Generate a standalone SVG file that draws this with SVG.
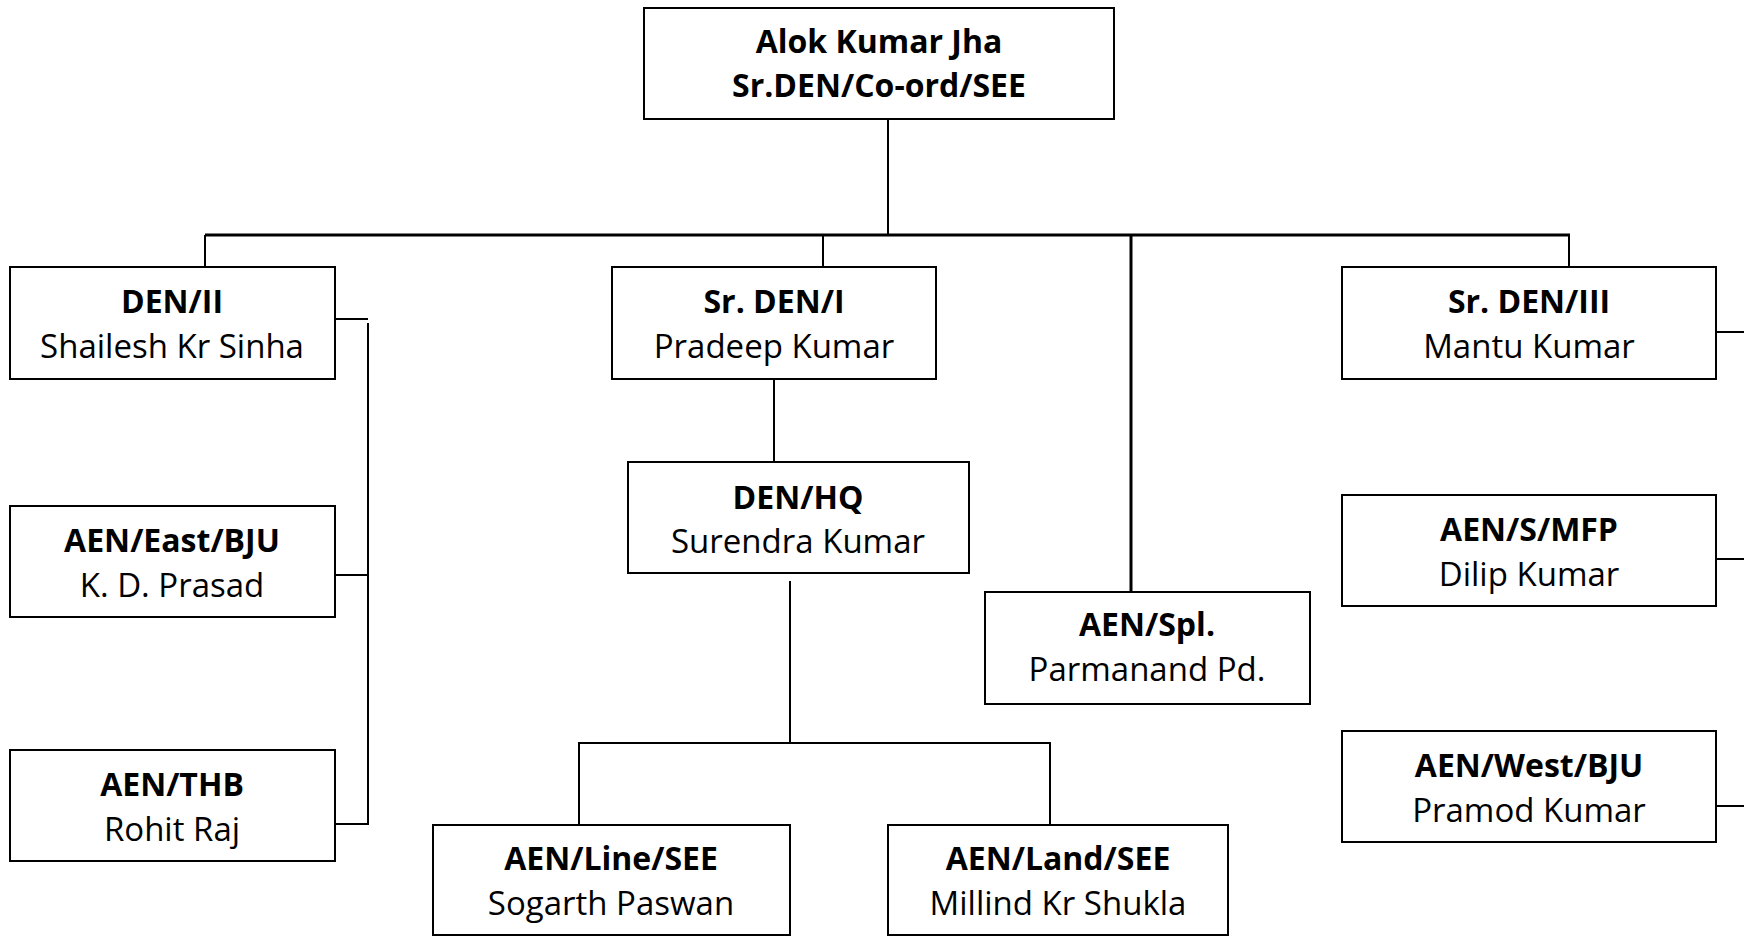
<svg xmlns="http://www.w3.org/2000/svg" width="1744" height="936" viewBox="0 0 1744 936">
<style>
  .box { fill: #ffffff; stroke: #000000; stroke-width: 2; }
  .t { font-family: "Open Sans", "Liberation Sans", sans-serif; font-size: 32px; fill: #000000; text-anchor: middle; }
  .b { font-weight: bold; }
  .n { font-size: 33px; }
  .c { fill: none; stroke: #000000; stroke-width: 2; }
  .thick { stroke-width: 3; }
</style>
<rect width="1744" height="936" fill="#ffffff"/>
<g id="connectors">
  <line class="c" x1="888" y1="119" x2="888" y2="235"/>
  <line class="c thick" x1="205" y1="235" x2="1570" y2="235"/>
  <line class="c" x1="205" y1="235" x2="205" y2="267"/>
  <line class="c" x1="823" y1="235" x2="823" y2="267"/>
  <line class="c thick" x1="1131" y1="235" x2="1131" y2="592"/>
  <line class="c" x1="1569" y1="235" x2="1569" y2="267"/>
  <polyline class="c" points="335,319 368,319"/>
  <polyline class="c" points="368,323 368,824 335,824"/>
  <line class="c" x1="335" y1="575" x2="368" y2="575"/>
  <line class="c" x1="774" y1="380" x2="774" y2="462"/>
  <line class="c" x1="790" y1="581" x2="790" y2="743"/>
  <polyline class="c" points="579,825 579,743 1050,743 1050,825"/>
  <line class="c" x1="1716" y1="332" x2="1744" y2="332"/>
  <line class="c" x1="1716" y1="559" x2="1744" y2="559"/>
  <line class="c" x1="1716" y1="806" x2="1744" y2="806"/>
</g>
<g id="n-top">
  <rect class="box" x="644" y="8" width="470" height="111"/>
  <text class="t b" x="879" y="53">Alok Kumar Jha</text>
  <text class="t b" x="879" y="97">Sr.DEN/Co-ord/SEE</text>
</g>
<g id="n-den2">
  <rect class="box" x="10" y="267" width="325" height="112"/>
  <text class="t b" x="172" y="313">DEN/II</text>
  <text class="t n" x="172" y="358">Shailesh Kr Sinha</text>
</g>
<g id="n-aen-east">
  <rect class="box" x="10" y="506" width="325" height="111"/>
  <text class="t b" x="172" y="552">AEN/East/BJU</text>
  <text class="t n" x="172" y="597">K. D. Prasad</text>
</g>
<g id="n-aen-thb">
  <rect class="box" x="10" y="750" width="325" height="111"/>
  <text class="t b" x="172" y="796">AEN/THB</text>
  <text class="t n" x="172" y="841">Rohit Raj</text>
</g>
<g id="n-srden1">
  <rect class="box" x="612" y="267" width="324" height="112"/>
  <text class="t b" x="774" y="313">Sr. DEN/I</text>
  <text class="t n" x="774" y="358">Pradeep Kumar</text>
</g>
<g id="n-denhq">
  <rect class="box" x="628" y="462" width="341" height="111"/>
  <text class="t b" x="798" y="509">DEN/HQ</text>
  <text class="t n" x="798" y="553">Surendra Kumar</text>
</g>
<g id="n-aen-line">
  <rect class="box" x="433" y="825" width="357" height="110"/>
  <text class="t b" x="611" y="870">AEN/Line/SEE</text>
  <text class="t n" x="611" y="915">Sogarth Paswan</text>
</g>
<g id="n-aen-land">
  <rect class="box" x="888" y="825" width="340" height="110"/>
  <text class="t b" x="1058" y="870">AEN/Land/SEE</text>
  <text class="t n" x="1058" y="915">Millind Kr Shukla</text>
</g>
<g id="n-aen-spl">
  <rect class="box" x="985" y="592" width="325" height="112"/>
  <text class="t b" x="1147" y="636">AEN/Spl.</text>
  <text class="t n" x="1147" y="681">Parmanand Pd.</text>
</g>
<g id="n-srden3">
  <rect class="box" x="1342" y="267" width="374" height="112"/>
  <text class="t b" x="1529" y="313">Sr. DEN/III</text>
  <text class="t n" x="1529" y="358">Mantu Kumar</text>
</g>
<g id="n-aen-smfp">
  <rect class="box" x="1342" y="495" width="374" height="111"/>
  <text class="t b" x="1529" y="541">AEN/S/MFP</text>
  <text class="t n" x="1529" y="586">Dilip Kumar</text>
</g>
<g id="n-aen-west">
  <rect class="box" x="1342" y="731" width="374" height="111"/>
  <text class="t b" x="1529" y="777">AEN/West/BJU</text>
  <text class="t n" x="1529" y="822">Pramod Kumar</text>
</g>
</svg>
